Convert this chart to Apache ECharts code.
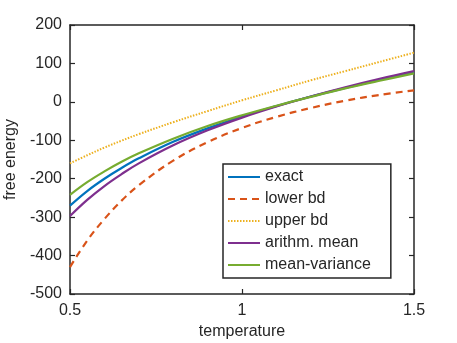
<!DOCTYPE html>
<html>
<head>
<meta charset="utf-8">
<script src="https://cdn.jsdelivr.net/npm/echarts@6/dist/echarts.min.js"></script>
<style>
  html, body { margin: 0; padding: 0; background: #fff; }
  #chart { width: 457px; height: 343px; }
</style>
</head>
<body>
<div id="chart"></div>
<script>
const temps = [0.5, 0.55, 0.6, 0.65, 0.7, 0.8, 0.9, 1.0, 1.1, 1.2, 1.3, 1.4, 1.5];

const exact      = [-270, -232, -200, -172, -147, -104, -69, -38, -11, 14, 36, 57, 77];
const lowerBd    = [-430, -361, -305, -257, -217, -153, -105, -68, -39, -16, 3, 18, 30];
const upperBd    = [-160, -139, -119, -101, -84, -53, -24, 4, 30, 56, 80, 104, 128];
const arithMean  = [-297, -255, -219, -188, -160, -113, -74, -41, -12, 14, 38, 60, 80];
const meanVar    = [-242, -209, -181, -156, -134, -96, -63, -35, -10, 13, 35, 55, 74];

const seriesNames = ['exact', 'lower bd', 'upper bd', 'arithm. mean', 'mean-variance'];

const xTicks = { min: 0.5, max: 1.5, step: 0.5 };
const yTicks = { min: -500, max: 200, step: 100 };

function pairs(vals) {
  let out = [];
  for (let i = 0; i < temps.length; i++) out.push([temps[i], vals[i]]);
  return out;
}

const dark = '#262626';
const font = 'Liberation Sans';

function lineSeries(name, vals, color, type, width) {
  return {
    name: name,
    type: 'line',
    data: pairs(vals),
    smooth: 0.4,
    symbol: 'none',
    showSymbol: false,
    lineStyle: { color: color, width: width, type: type },
    itemStyle: { color: color },
    z: 3
  };
}

function axisBase(extra) {
  return Object.assign({
    type: 'value',
    axisLine: { show: true, onZero: false, lineStyle: { color: dark, width: 1.5 } },
    axisTick: { show: true, inside: true, length: 5, lineStyle: { color: dark, width: 1.2 } },
    splitLine: { show: false }
  }, extra);
}

var chart = echarts.init(document.getElementById('chart'), null, { renderer: 'canvas' });

var option = {
  animation: false,
  backgroundColor: '#fff',
  textStyle: { fontFamily: font },
  grid: { left: 70, right: 43, top: 25, bottom: 49, containLabel: false, outerBoundsMode: 'none' },
  xAxis: [
    axisBase({
      min: xTicks.min, max: xTicks.max, interval: xTicks.step,
      position: 'bottom',
      name: 'temperature', nameLocation: 'middle', nameGap: 27,
      nameTextStyle: { color: dark, fontSize: 16, fontFamily: font },
      axisLabel: { color: dark, fontSize: 16, fontFamily: font, margin: 9 }
    }),
    axisBase({
      min: xTicks.min, max: xTicks.max, interval: xTicks.step,
      position: 'top',
      axisLabel: { show: false }
    })
  ],
  yAxis: [
    axisBase({
      min: yTicks.min, max: yTicks.max, interval: yTicks.step,
      position: 'left',
      name: 'free energy', nameLocation: 'middle', nameGap: 47,
      nameTextStyle: { color: dark, fontSize: 16, fontFamily: font },
      axisLabel: { color: dark, fontSize: 16, fontFamily: font, margin: 8 }
    }),
    axisBase({
      min: yTicks.min, max: yTicks.max, interval: yTicks.step,
      position: 'right',
      axisLabel: { show: false }
    })
  ],
  legend: {
    orient: 'vertical',
    left: 223,
    top: 164,
    data: seriesNames,
    backgroundColor: '#fff',
    borderColor: dark,
    borderWidth: 1.5,
    padding: [5, 20, 5, 4],
    itemWidth: 32,
    itemHeight: 12,
    itemGap: 6,
    itemStyle: { color: 'rgba(0,0,0,0)', borderWidth: 0 },
    textStyle: { color: dark, fontSize: 16, fontFamily: font }
  },
  series: [
    lineSeries(seriesNames[0], exact, '#0072BD', 'solid', 2.2),
    lineSeries(seriesNames[1], lowerBd, '#D95319', [7, 5], 2.2),
    lineSeries(seriesNames[2], upperBd, '#EDB120', [1.5, 1.5], 2),
    lineSeries(seriesNames[3], arithMean, '#7E2F8E', 'solid', 2.2),
    lineSeries(seriesNames[4], meanVar, '#77AC30', 'solid', 2.2)
  ]
};

chart.setOption(option);
</script>
</body>
</html>
